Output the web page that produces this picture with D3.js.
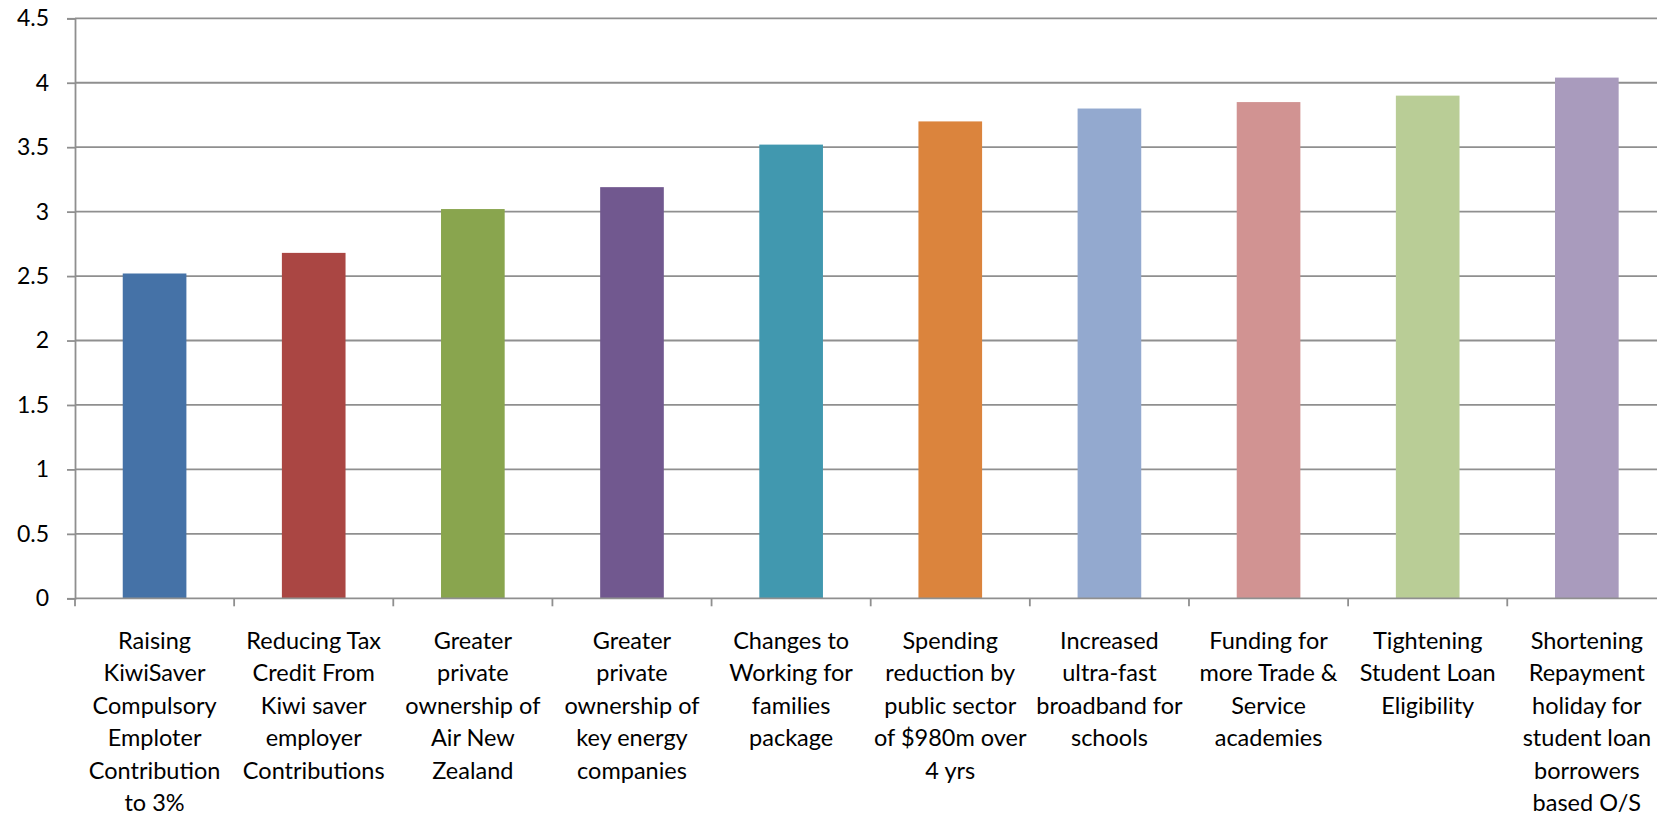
<!DOCTYPE html>
<html><head><meta charset="utf-8">
<script src="https://cdn.jsdelivr.net/npm/d3@7/dist/d3.min.js"></script>
<style>
html,body{margin:0;padding:0;background:#fff;overflow:hidden;}
svg{display:block;}
text{font-family:Lato,"Open Sans",sans-serif;fill:#000;}
</style></head>
<body><svg id="chart" width="1657" height="815"></svg>
<script>
const categories = [
  ["Raising","KiwiSaver","Compulsory","Emploter","Contribution","to 3%"],
  ["Reducing Tax","Credit From","Kiwi saver","employer","Contributions"],
  ["Greater","private","ownership of","Air New","Zealand"],
  ["Greater","private","ownership of","key energy","companies"],
  ["Changes to","Working for","families","package"],
  ["Spending","reduction by","public sector","of $980m over","4 yrs"],
  ["Increased","ultra-fast","broadband for","schools"],
  ["Funding for","more Trade &","Service","academies"],
  ["Tightening","Student Loan","Eligibility"],
  ["Shortening","Repayment","holiday for","student loan","borrowers","based O/S"]
];
const values = [2.52, 2.68, 3.02, 3.19, 3.52, 3.70, 3.80, 3.85, 3.90, 4.04];
const colors = ["#4572A7","#AA4643","#89A54E","#71588F","#4198AF","#DB843D","#93A9CF","#D19392","#B9CD96","#A99BBD"];
const yTicks = [0,0.5,1,1.5,2,2.5,3,3.5,4,4.5];

(function(){
const svg = d3.select("#chart");
const mLeft = 75, mRight = 1666.4, mTop = 18.3, mBottom = 598.3;
const keys = categories.map((c,i)=>i);
const x = d3.scaleBand().domain(keys).range([mLeft,mRight]).paddingInner(0.6).paddingOuter(0.3);
const y = d3.scaleLinear().domain([0,4.5]).range([mBottom,mTop]);
const step = x.step();
const gridColor = "#8f8f8f";

svg.append("g").selectAll("line").data(yTicks.filter(t=>t>0)).join("line")
  .attr("x1",mLeft).attr("x2",mRight)
  .attr("y1",d=>y(d)).attr("y2",d=>y(d))
  .attr("stroke",gridColor).attr("stroke-width",1.8);

svg.append("g").selectAll("rect").data(values).join("rect")
  .attr("x",(d,i)=>x(i)).attr("width",x.bandwidth())
  .attr("y",d=>y(d)).attr("height",d=>mBottom-y(d))
  .attr("fill",(d,i)=>colors[i]);

const yAxis = svg.append("g").attr("transform",`translate(${mLeft},0)`)
  .call(d3.axisLeft(y).tickValues(yTicks).tickSize(8).tickPadding(18).tickFormat(d3.format("")));
yAxis.select(".domain").attr("stroke",gridColor).attr("stroke-width",1.8);
yAxis.selectAll(".tick line").attr("stroke",gridColor).attr("stroke-width",1.8);
yAxis.selectAll(".tick text").attr("font-size",23).attr("font-family","Lato,'Open Sans',sans-serif").attr("fill","#000");

svg.append("line").attr("x1",mLeft).attr("x2",mRight).attr("y1",mBottom).attr("y2",mBottom)
  .attr("stroke",gridColor).attr("stroke-width",1.8);
const bounds = d3.range(categories.length+1).map(i=> (i<categories.length? x(i) - step*0.3 : x(categories.length-1)+x.bandwidth()+step*0.3));
svg.append("g").selectAll("line").data(bounds).join("line")
  .attr("x1",d=>d).attr("x2",d=>d).attr("y1",mBottom).attr("y2",mBottom+8)
  .attr("stroke",gridColor).attr("stroke-width",1.8);

const lab = svg.append("g").selectAll("text").data(categories).join("text")
  .attr("text-anchor","middle").attr("font-size",23.5)
  .attr("transform",(d,i)=>`translate(${x(i)+x.bandwidth()/2},649)`);
lab.selectAll("tspan").data(d=>d).join("tspan")
  .attr("x",0).attr("y",(d,j)=>j*32.4).text(d=>d);
})();
</script></body></html>
